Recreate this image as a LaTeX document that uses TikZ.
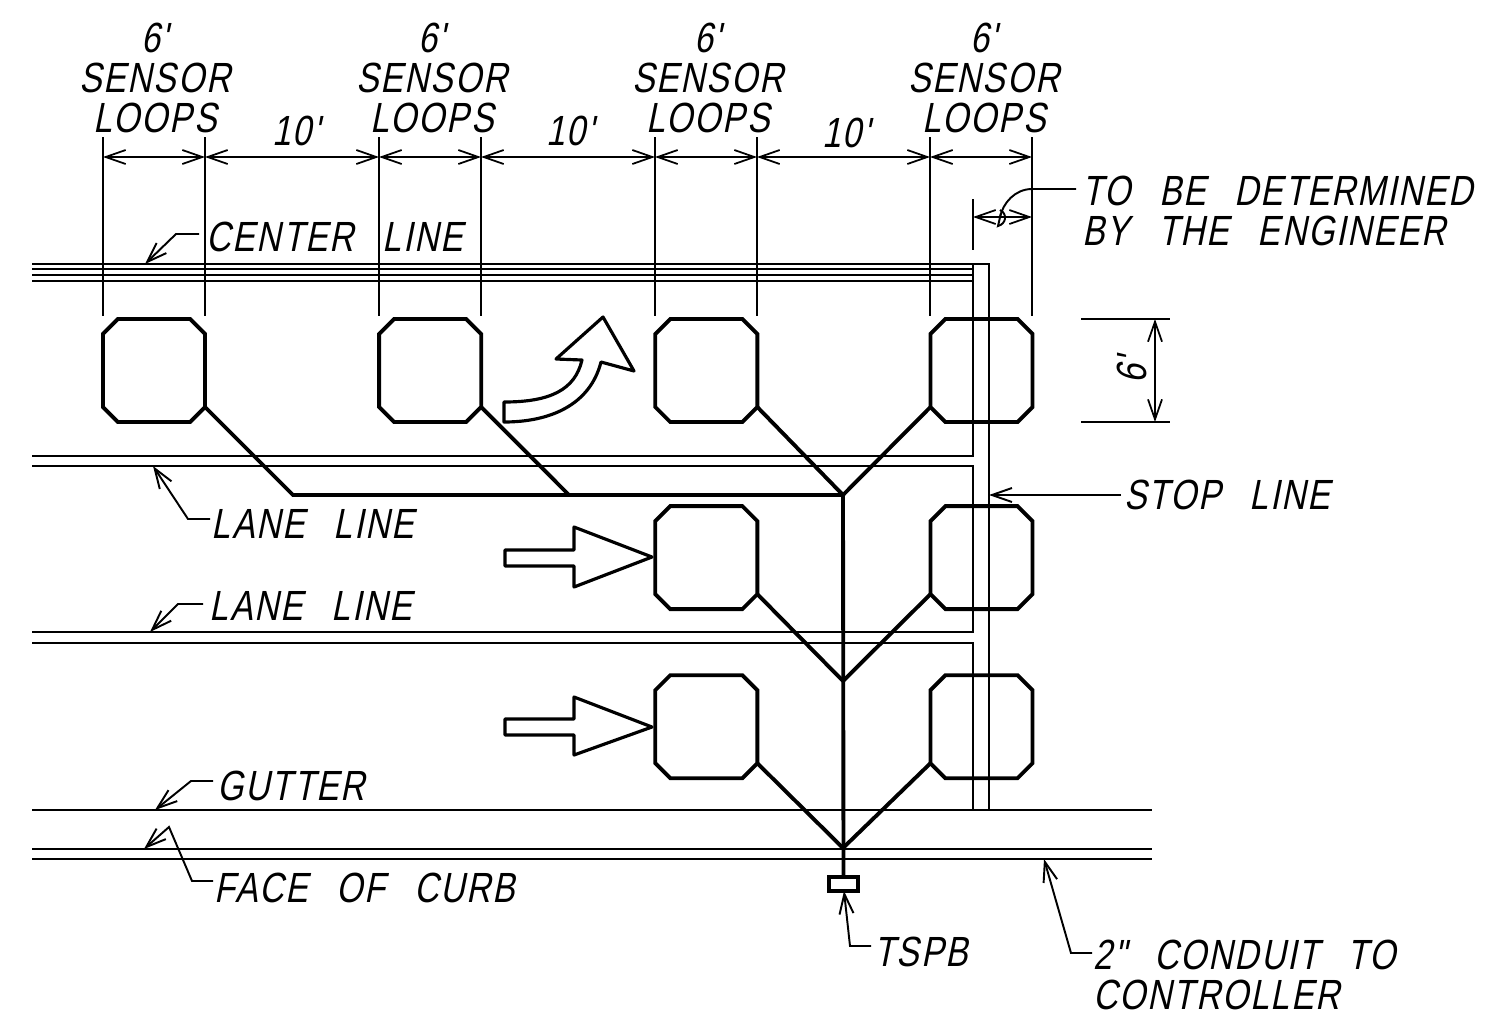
\documentclass[tikz,border=0pt]{standalone}
\usepackage{fontspec}
\setmainfont[Ligatures=TeXOff,FakeSlant=0.2,FakeStretch=0.8,LetterSpace=4,WordSpace=2.6]{Liberation Sans}
\usetikzlibrary{arrows.meta,shapes.misc}

\tikzstyle{loopbox} = [chamfered rectangle, draw, line width = 1.1pt, inner sep = 0pt, outer sep = 0pt, text width = 0.87cm, text height = 0.88cm, text depth = 0pt, chamfered rectangle xsep = 0.075cm, chamfered rectangle ysep = 0.075cm]
\tikzstyle{wire} = [draw, line width = 1.1pt]
\tikzstyle{road} = [draw, line width = 0.7pt]
\tikzstyle{ext} = [draw, line width = 0.5pt]
\tikzstyle{dim} = [draw, line width = 0.5pt, {Straight Barb[length = 0.2cm, width = 0.14cm]}-{Straight Barb[length = 0.2cm, width = 0.14cm]}]
\tikzstyle{leader} = [draw, line width = 0.55pt, -{Straight Barb[length = 0.2cm, width = 0.14cm]}]
\tikzstyle{bigarrow} = [draw, line width = 0.9pt, line join = round]
\tikzstyle{txt} = [font = \fontsize{12pt}{11.4pt}\selectfont, inner sep = 0pt, align = center]

\begin{document}
\begin{tikzpicture}[x = 0.01cm, y = -0.01cm, node distance = 2.76cm]

  \useasboundingbox (0,0) rectangle (1487,1017);

  \path [road] (32,456) -- (973,456) -- (973,264) -- (32,264);
  \path [road] (32,269) -- (973,269);
  \path [road] (32,275) -- (973,275);
  \path [road] (32,281) -- (973,281);
  \path [road] (32,466) -- (973,466) -- (973,632) -- (32,632);
  \path [road] (32,643) -- (973,643) -- (973,810);
  \path [road] (973,264) -- (989,264) -- (989,810);
  \path [road] (32,810) -- (1152,810);
  \path [road] (32,849) -- (1152,849);
  \path [road] (32,859) -- (1152,859);

  \node[loopbox] (loopa) at (154,370.5) {};
  \node[loopbox, right of = loopa] (loopb) {};
  \node[loopbox, right of = loopb] (loopc) {};
  \node[loopbox, right of = loopc, node distance = 2.75cm] (loopd) {};
  \node[loopbox, below of = loopc, node distance = 1.87cm] (loope) {};
  \node[loopbox, below of = loopd, node distance = 1.87cm] (loopf) {};
  \node[loopbox, below of = loope, node distance = 1.69cm] (loopg) {};
  \node[loopbox, below of = loopf, node distance = 1.69cm] (looph) {};

  \node[draw, line width = 1.1pt, inner sep = 0pt, minimum width = 0.29cm, minimum height = 0.14cm] (tspbox) at (843.5,884) {};

  \coordinate (bend) at (293,495);
  \coordinate (branch) at (569,495);
  \coordinate (junctop) at (843,495);
  \coordinate (juncmid) at (843,681);
  \coordinate (junclow) at (843,848);

  \path [wire] (loopa.after south east) -- (bend) -- (junctop);
  \path [wire] (loopb.after south east) -- (branch);
  \path [wire] (loopc.after south east) -- (junctop);
  \path [wire] (loopd.before south west) -- (junctop);
  \path [wire] (loope.after south east) -- (juncmid);
  \path [wire] (loopf.before south west) -- (juncmid);
  \path [wire] (loopg.after south east) -- (junclow);
  \path [wire] (looph.before south west) -- (junclow);
  \path [wire] (junctop) -- (tspbox.north);

  \coordinate (dima) at (103,157);
  \coordinate (dimb) at (205,157);
  \coordinate (dimc) at (379,157);
  \coordinate (dimd) at (481,157);
  \coordinate (dime) at (655,157);
  \coordinate (dimf) at (757,157);
  \coordinate (dimg) at (930,157);
  \coordinate (dimh) at (1032,157);
  \coordinate (dimi) at (973,217);
  \coordinate (dimj) at (1032,217);
  \coordinate (dimk) at (1155,319);
  \coordinate (diml) at (1155,422);

  \path [ext] (dima) ++(0,-20) -- ++(0,179);
  \path [ext] (dimb) ++(0,-20) -- ++(0,179);
  \path [ext] (dimc) ++(0,-20) -- ++(0,179);
  \path [ext] (dimd) ++(0,-20) -- ++(0,179);
  \path [ext] (dime) ++(0,-20) -- ++(0,179);
  \path [ext] (dimf) ++(0,-20) -- ++(0,179);
  \path [ext] (dimg) ++(0,-20) -- ++(0,179);
  \path [ext] (dimh) ++(0,-20) -- ++(0,179);
  \path [ext] (dimi) ++(0,-18) -- ++(0,51);
  \path [ext] (dimk) ++(-74,0) -- ++(89,0);
  \path [ext] (diml) ++(-74,0) -- ++(89,0);

  \path [dim] (dima) -- (dimb);
  \path [dim] (dimb) -- (dimc);
  \path [dim] (dimc) -- (dimd);
  \path [dim] (dimd) -- (dime);
  \path [dim] (dime) -- (dimf);
  \path [dim] (dimf) -- (dimg);
  \path [dim] (dimg) -- (dimh);
  \path [dim] (dimi) -- (dimj);
  \path [dim] (dimk) -- (diml);

  \node[txt] (loopsa) at (155,78) {6'\\SENSOR\\LOOPS};
  \node[txt] (loopsb) at (432,78) {6'\\SENSOR\\LOOPS};
  \node[txt] (loopsc) at (708,78) {6'\\SENSOR\\LOOPS};
  \node[txt] (loopsd) at (984,78) {6'\\SENSOR\\LOOPS};
  \node[txt] (gapa) at (296,131) {10'};
  \node[txt] (gapb) at (570,131) {10'};
  \node[txt] (gapc) at (846,133) {10'};
  \node[txt, rotate = 90] (sidedim) at (1132,370) {6'};

  \node[txt, anchor = west] (center) at (206,237) {CENTER LINE};
  \node[txt, anchor = west] (lanea) at (211,524) {LANE LINE};
  \node[txt, anchor = west] (laneb) at (209,606) {LANE LINE};
  \node[txt, anchor = west] (gutter) at (217,786) {GUTTER};
  \node[txt, anchor = west] (curb) at (214,888) {FACE OF CURB};
  \node[txt, anchor = west] (tspb) at (874,952) {TSPB};
  \node[txt, anchor = west] (stop) at (1124,495) {STOP LINE};
  \node[txt, anchor = west, align = left] (engineer) at (1082,211) {TO BE DETERMINED\\BY THE ENGINEER};
  \node[txt, anchor = west, align = left] (conduit) at (1093,975) {2" CONDUIT TO\\CONTROLLER};

  \coordinate (tipcenter) at (145,264);
  \coordinate (tiplanea) at (153,466);
  \coordinate (tiplaneb) at (150,632);
  \coordinate (tipgutter) at (155,810);
  \coordinate (tipcurb) at (144,849);
  \coordinate (tiptspb) at (844,891);
  \coordinate (tipconduit) at (1044,859);
  \coordinate (tipstop) at (989,495);
  \coordinate (tipengineer) at (1000,217);

  \path [leader] (199,234) -- (176,234) -- (tipcenter);
  \path [leader] (lanea.west) ++(-1,-5) -- (188,519) -- (tiplanea);
  \path [leader] (laneb.west) ++(-6,-2) -- (178,604) -- (tiplaneb);
  \path [leader] (213,781) -- (191,781) -- (tipgutter);
  \path [leader] (213,881) -- (192,881) -- (169,827) -- (tipcurb);
  \path [leader] (871,946) -- (850,946) -- (tiptspb);
  \path [leader] (1092,953) -- (1071,953) -- (tipconduit);
  \path [leader] (stop.west) ++(-3,0) -- (tipstop);
  \draw[line width = 0.55pt] (1076,189) -- (1032,189) .. controls (1015,189) and (1003,203) .. (tipengineer);
  \draw[line width = 0.55pt] (1000,210) .. controls (1008,214) and (1006,224) .. (998,226) -- (1001,213);

  \path [bigarrow] (505,550) -- (574,550) -- (574,527) -- (652,557) -- (574,587) -- (574,566) -- (505,566) -- cycle;
  \path [bigarrow] (505,719) -- (574,719) -- (574,697) -- (652,727) -- (574,755) -- (574,735) -- (505,735) -- cycle;
  \path [bigarrow] (504,402) .. controls (550,402) and (575,390) .. (582,360) -- (556,359) -- (603,317) -- (634,371) -- (601,362) .. controls (590,405) and (550,422) .. (504,422) -- cycle;

\end{tikzpicture}
\end{document}
